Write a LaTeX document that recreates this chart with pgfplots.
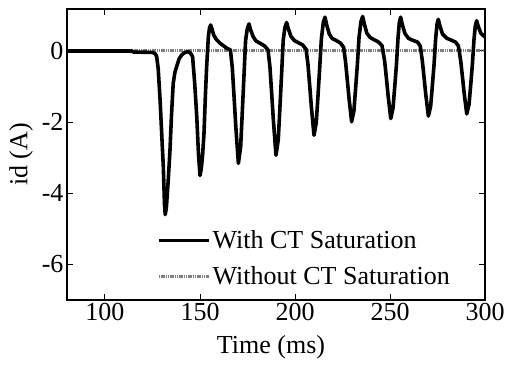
\documentclass[border=0pt]{standalone}
\usepackage{fontspec}
\setmainfont{Liberation Serif}
\usepackage{pgfplots}
\pgfplotsset{compat=1.18}
\begin{document}
\begin{tikzpicture}
\begin{axis}[
  scale only axis, width=418pt, height=291pt,
  xmin=80, xmax=300, ymin=-7, ymax=1.18,
  xtick={100,150,200,250,300}, ytick={-6,-4,-2,0},
  xticklabels={100,150,200,250,300}, yticklabels={-6,-4,-2,0},
  tick align=inside, major tick length=6pt,
  tick style={black, line width=1pt},
  axis line style={line width=1.3pt},
  font=\fontsize{26}{30}\selectfont,
  xlabel={Time (ms)}, ylabel={id (A)},
  xlabel style={at={(axis description cs:0.488,-0.162)}, anchor=center},
  ylabel style={at={(axis description cs:-0.11,0.5)}, anchor=center},
  legend cell align=left,
  legend style={draw=none, fill=none, at={(axis description cs:0.215,0.245)}, anchor=north west, inner sep=0pt, row sep=12pt, font=\fontsize{26}{30}\selectfont},
  legend image code/.code={\draw[#1] (0pt,0pt) -- (50pt,0pt);},
]
\addplot[forget plot, color=black!50, line width=3pt, dash pattern=on 1.2pt off 0.6pt] coordinates {(80,0) (300,0)};
\addplot[black, line width=3.6pt, line join=round] coordinates {
(80,0) (114,0) (115,-0.03) (125,-0.04) (126.5,-0.08) (127.2,-0.16) (128,-0.5) (129,-1.38) (130,-2.5) (130.7,-3.26) (131.3,-4.3) (131.7,-4.6) (132.3,-4.4) (133.2,-3.7) (134.2,-2.79) (135,-1.8) (135.9,-0.91) (136.8,-0.6) (137.7,-0.44) (139,-0.22) (140.4,-0.11) (142,-0.04) (143.7,-0.02) (145,-0.06) (146.1,-0.16) (147.2,-0.9) (148.3,-1.85) (149.2,-2.9) (150,-3.5) (150.7,-3.3) (151.4,-2.9) (152.1,-2.32) (152.8,-1.3) (153.5,-0.44) (154.4,0.4) (155,0.65) (155.6,0.73) (156.3,0.62) (157.2,0.45) (158.5,0.33) (160.5,0.22) (162.5,0.14) (164,0.08) (166,0.03)
(167.0,-0.47) (167.9,-1.26) (168.8,-2.09) (170.2,-3.16) (171.4,-2.69) (172.3,-1.67) (173.2,-0.63) (174.0,0.3) (174.9,0.63) (175.8,0.76) (176.6,0.6) (178.0,0.4) (179.5,0.28) (181.5,0.22) (184.0,0.14) (185.8,0.03)
(186.8,-0.44) (187.7,-1.17) (188.6,-1.93) (190.0,-2.93) (191.2,-2.49) (192.1,-1.55) (193.0,-0.59) (193.8,0.3) (194.7,0.66) (195.6,0.8) (196.4,0.64) (197.8,0.42) (199.5,0.3) (201.5,0.24) (204.0,0.17) (205.8,0.05)
(206.8,-0.36) (207.7,-0.95) (208.6,-1.56) (210.0,-2.37) (211.2,-2.01) (212.1,-1.26) (213.0,-0.47) (213.9,0.35) (214.9,0.8) (215.8,0.95) (216.6,0.75) (218.0,0.48) (219.6,0.35) (221.5,0.3) (224.0,0.22) (225.6,0.1)
(226.6,-0.3) (227.5,-0.8) (228.4,-1.31) (229.8,-1.99) (231.0,-1.69) (231.9,-1.05) (232.8,-0.4) (233.7,0.38) (234.7,0.82) (235.6,0.97) (236.4,0.78) (237.8,0.5) (239.5,0.38) (241.5,0.32) (244.0,0.25) (245.8,0.15)
(247.2,-0.29) (248.1,-0.76) (249.0,-1.25) (250.4,-1.9) (251.6,-1.6) (252.5,-1.0) (253.4,-0.38) (254.2,0.35) (254.9,0.8) (255.6,0.95) (256.4,0.76) (257.8,0.5) (259.6,0.36) (261.5,0.31) (264.5,0.25) (265.9,0.14)
(267.0,-0.27) (267.9,-0.73) (268.8,-1.21) (270.2,-1.83) (271.4,-1.55) (272.3,-0.97) (273.2,-0.37) (274.0,0.33) (274.7,0.74) (275.4,0.89) (276.2,0.72) (277.6,0.48) (279.8,0.36) (282.0,0.31) (284.5,0.25) (286.0,0.14)
(287.2,-0.27) (288.1,-0.71) (289.0,-1.17) (290.4,-1.77) (291.6,-1.5) (292.5,-0.94) (293.4,-0.35) (294.2,0.32) (294.9,0.7) (295.6,0.85) (296.4,0.7) (297.8,0.5) (300,0.39)
};
\addlegendentry{With CT Saturation}
\addlegendimage{color=black!50, line width=3pt, dash pattern=on 1.2pt off 0.6pt}
\addlegendentry{Without CT Saturation}
\end{axis}
\pgfresetboundingbox
\path[use as bounding box] (-67pt,-67pt) rectangle (439pt,300pt);
\end{tikzpicture}
\end{document}
